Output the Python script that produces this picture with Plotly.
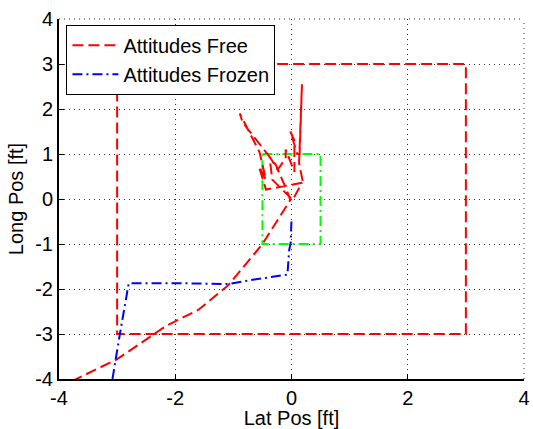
import plotly.graph_objects as go

# Trajectory data (ft)
free_x = [-3.78, -3.0, -2.17, -1.6, -1.09, -0.5, -0.02, -0.1, -0.27, -0.84, -0.89, -0.55,
          -0.44, -0.56, -0.44, 0.18, 0.02, -0.33, -0.38, -0.24, -0.1, -0.1, 0.05, 0.05,
          -0.02, 0.1, 0.14, 0.18, 0.13, 0.2]
free_y = [-4.05, -3.56, -2.83, -2.46, -1.92, -1.0, -0.02, 0.25, 0.76, 1.70, 1.90, 1.04,
          0.43, 0.72, 0.21, 0.36, -0.02, 0.43, 0.95, 0.65, 0.9, 1.1, 0.6, 1.3,
          1.5, 1.0, 1.0, 2.55, 0.8, 0.35]

frozen_x = [-3.08, -3.02, -2.95, -2.85, -2.80, -2.0, -1.09, -0.64, -0.07, -0.04, -0.015, 0.0]
frozen_y = [-4.0, -3.57, -2.98, -2.24, -1.87, -1.87, -1.89, -1.79, -1.68, -1.13, -0.99, -0.46]

outer_x = [-3, 3, 3, -3, -3]
outer_y = [3, 3, -3, -3, 3]

inner_x = [-0.5, 0.5, 0.5, -0.5, -0.5]
inner_y = [1, 1, -1, -1, 1]

x_ticks = [-4, -2, 0, 2, 4]
y_ticks = [-4, -3, -2, -1, 0, 1, 2, 3, 4]

FONT = "Arial, Liberation Sans, sans-serif"
RED_DASH = "11px,5px"
DASHDOT = "10px,4px,2px,4px"
GRID_DASH = "1px,4px"
GRID_COLOR = "#333333"

fig = go.Figure()
fig.add_trace(go.Scatter(x=outer_x, y=outer_y, mode="lines", showlegend=False,
                         line=dict(color="#ff0000", width=2, dash=RED_DASH)))
fig.add_trace(go.Scatter(x=inner_x, y=inner_y, mode="lines", showlegend=False,
                         line=dict(color="#00ff00", width=2, dash=DASHDOT)))
fig.add_trace(go.Scatter(x=free_x, y=free_y, mode="lines", name="Attitudes Free",
                         line=dict(color="#ff0000", width=2, dash=RED_DASH)))
fig.add_trace(go.Scatter(x=frozen_x, y=frozen_y, mode="lines", name="Attitudes Frozen",
                         line=dict(color="#0000ff", width=2, dash=DASHDOT)))

axis_common = dict(
    showgrid=True, gridcolor=GRID_COLOR, griddash=GRID_DASH, gridwidth=1,
    zeroline=False, showline=True, linecolor="black", linewidth=2,
    ticks="inside", ticklen=5, tickcolor="black", mirror=False,
    ticklabeloverflow="allow", automargin=False,
    tickfont=dict(family=FONT, size=20, color="black"),
)

# dotted grid lines along the top and right edges (box off, grid on)
shapes = [
    dict(type="line", xref="paper", yref="paper", x0=0, x1=1, y0=1, y1=1,
         line=dict(color=GRID_COLOR, width=1, dash=GRID_DASH), layer="below"),
    dict(type="line", xref="paper", yref="paper", x0=1, x1=1, y0=0, y1=1,
         line=dict(color=GRID_COLOR, width=1, dash=GRID_DASH), layer="below"),
]

fig.update_layout(
    width=533, height=429,
    margin=dict(l=59, r=9, t=19, b=50),
    paper_bgcolor="white", plot_bgcolor="white",
    font=dict(family=FONT, size=20, color="black"),
    shapes=shapes,
    xaxis=dict(range=[-4, 4], tickvals=x_ticks, ticktext=[str(v) for v in x_ticks],
               title=dict(text="Lat Pos [ft]", font=dict(family=FONT, size=20), standoff=4),
               **axis_common),
    yaxis=dict(range=[-4, 4], tickvals=y_ticks, ticktext=[str(v) for v in y_ticks],
               title=dict(text="Long Pos [ft]", font=dict(family=FONT, size=20), standoff=6),
               **axis_common),
    legend=dict(x=0.016, y=0.984, xanchor="left", yanchor="top",
                bgcolor="white", bordercolor="black", borderwidth=1,
                font=dict(family=FONT, size=20, color="black"),
                tracegroupgap=0, itemwidth=46),
)

fig.write_html("out.html")
